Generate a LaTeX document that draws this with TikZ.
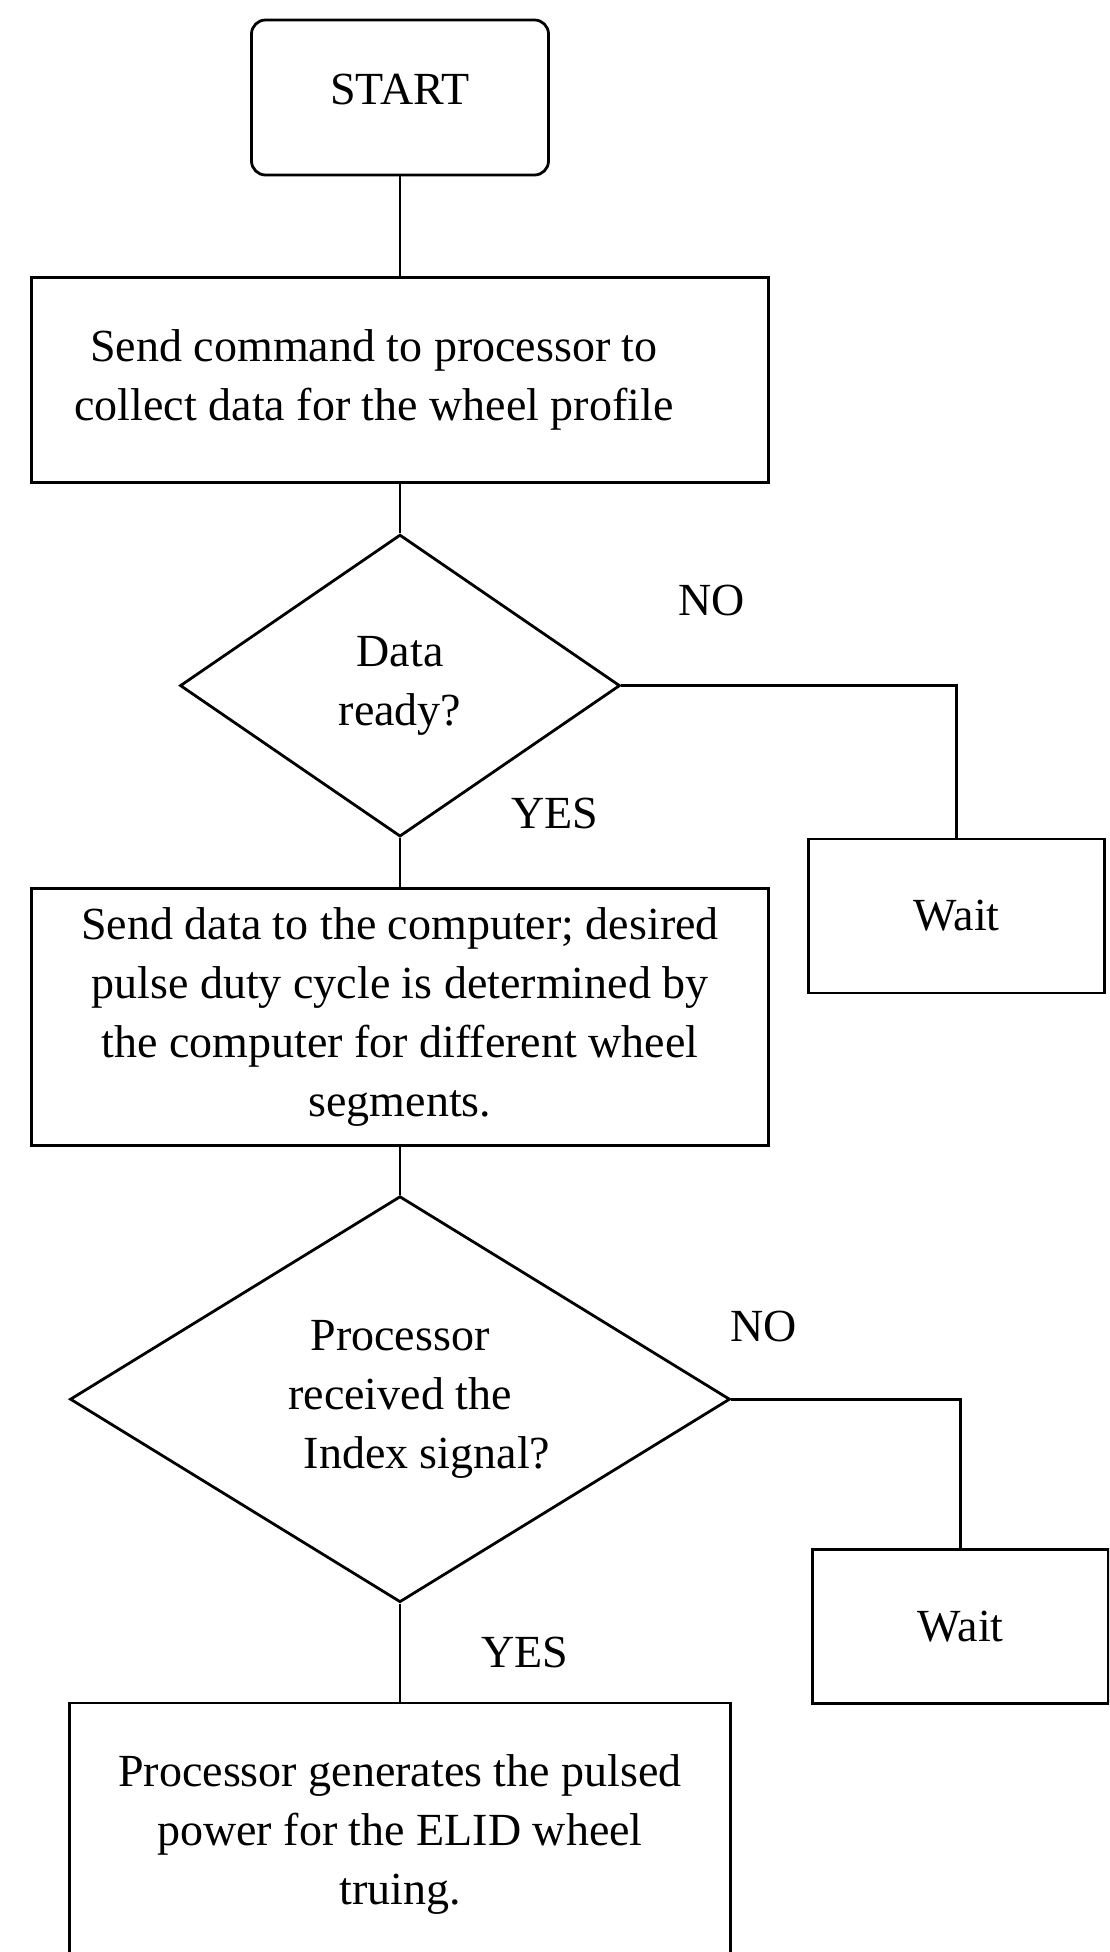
\documentclass[tikz,border=0pt]{standalone}
\usepackage{fontspec}
\setmainfont{Liberation Serif}
\usetikzlibrary{positioning}
\usetikzlibrary{shapes.geometric}

\tikzset{
	every node/.style={font=\fontsize{23pt}{29.5pt}\selectfont},
	startbox/.style={draw, rounded corners=7pt, minimum width=148.5pt, minimum height=77.5pt, text depth=8pt},
	procbox/.style={draw, align=center, minimum width=368.5pt},
	decision/.style={draw, diamond, align=center, inner sep=0pt},
	waitbox/.style={draw, minimum width=148pt, minimum height=77pt}
}

\begin{document}
\begin{tikzpicture}[line width=1.4pt]
			\useasboundingbox (0,0) rectangle (554.5pt,-976pt);
			\clip (0,0) rectangle (554.5pt,-976pt);
			
			\node[startbox] (start) at (200pt,-48.75pt) {START};
			\node[procbox, minimum height=102.5pt, below = 50pt of start] (cmd) {Send command to processor to\hspace*{26pt}\\collect data for the wheel profile\hspace*{26pt}};
			\node[decision, minimum width=220pt, minimum height=151pt, aspect=1.46, below = 24.5pt of cmd] (ready) {Data\\ready?};
			\node[procbox, minimum height=128.5pt, below = 24.5pt of ready] (send) {Send data to the computer; desired\\pulse duty cycle is determined by\\the computer for different wheel\\segments.};
			\node[decision, minimum width=330pt, minimum height=203pt, aspect=1.63, below = 24pt of send] (index) {Processor\\received the\\\hspace{27pt}Index signal?};
			\node[procbox, minimum width=330.5pt, minimum height=131pt, below = 49pt of index] (pulse) {Processor generates the pulsed\\power for the ELID wheel\\truing.};
			
			\node[waitbox, below right = 76pt and 93pt of ready.east] (waitA) {Wait};
			\node[waitbox, below right = 74.5pt and 40pt of index.east] (waitB) {Wait};
			
			\node (noA) at ([xshift=45pt, yshift=42.5pt]ready.east) {NO};
			\node (yesA) at ([xshift=77.5pt, yshift=12.5pt]ready.south) {YES};
			\node (noB) at ([xshift=16pt, yshift=36.5pt]index.east) {NO};
			\node (yesB) at ([xshift=62.5pt, yshift=-24.5pt]index.south) {YES};
			
			\path (start) edge (cmd);
			\path (cmd) edge (ready);
			\path (ready) edge (send);
			\path (send) edge (index);
			\path (index) edge (pulse);
			\draw (ready.east) -| (waitA.north);
			\draw (index.east) -| (waitB.north);
\end{tikzpicture}
\end{document}
